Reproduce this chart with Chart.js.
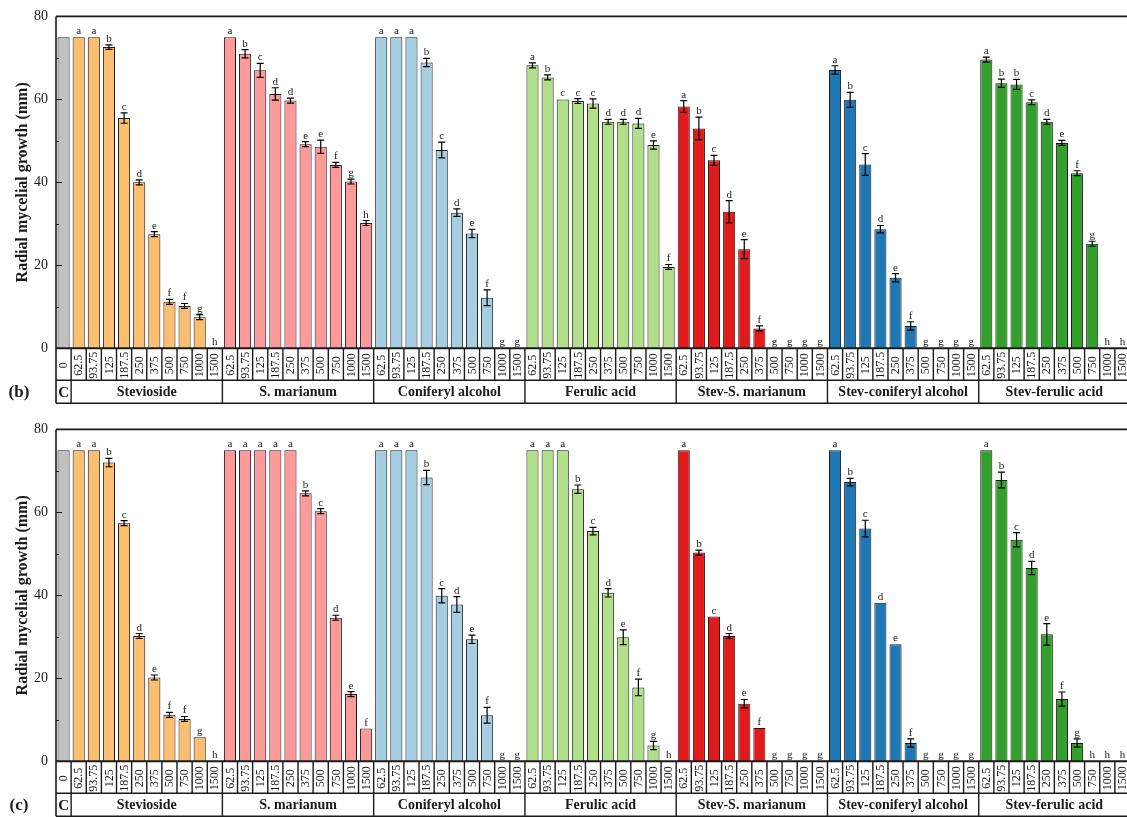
<!DOCTYPE html>
<html>
<head>
<meta charset="utf-8">
<title>Radial mycelial growth</title>
<script src="https://cdn.jsdelivr.net/npm/chart.js@4.4.1/dist/chart.umd.min.js"></script>
<style>
    html, body {
        margin: 0;
        padding: 0;
        background: #ffffff;
        width: 1127px;
        height: 817px;
        overflow: hidden;
        position: relative;
    }

    canvas {
        position: absolute;
        left: 0;
    }

    #panelB { top: 0; }

    #panelC { top: 413px; }
</style>
</head>
<body>

<canvas id="panelB" width="1130" height="410"></canvas>
<canvas id="panelC" width="1130" height="404"></canvas>

<script>

// =====================================
// DATA
// =====================================

const groups = [
    "Stevioside",
    "S. marianum",
    "Coniferyl alcohol",
    "Ferulic acid",
    "Stev-S. marianum",
    "Stev-coniferyl alcohol",
    "Stev-ferulic acid"
];

const concentrations = [
    "62.5", "93.75", "125", "187.5", "250",
    "375", "500", "750", "1000", "1500"
];

const controlLabel = "0";

const yTicks = [0, 20, 40, 60, 80];

// panel (b)
const controlB = 75;

const meansB = [
    [75, 75, 72.6, 55.5, 40.0, 27.5, 11.2, 10.2, 7.5, 0],
    [75, 71.0, 67.0, 61.3, 59.7, 49.2, 48.6, 44.2, 40.2, 30.2],
    [75, 75, 75, 68.9, 47.8, 32.7, 27.7, 12.2, 0, 0],
    [68.2, 65.3, 60.0, 59.6, 59.0, 54.6, 54.6, 54.2, 49.0, 19.6],
    [58.3, 53.0, 45.3, 32.9, 23.9, 4.8, 0, 0, 0, 0],
    [67.1, 59.9, 44.3, 28.7, 17.0, 5.4, 0, 0, 0, 0],
    [69.6, 63.9, 63.6, 59.3, 54.6, 49.5, 42.2, 25.2, 0, 0]
];

const errorsB = [
    [0, 0, 0.55, 1.25, 0.6, 0.6, 0.6, 0.6, 0.6, 0],
    [0, 1.0, 1.7, 1.5, 0.6, 0.6, 1.6, 0.6, 0.6, 0.6],
    [0, 0, 0, 1.0, 1.9, 0.9, 1.0, 1.9, 0, 0],
    [0.6, 0.6, 0, 0.6, 1.1, 0.6, 0.6, 1.2, 1.0, 0.6],
    [1.4, 2.7, 1.2, 2.7, 2.3, 0.6, 0, 0, 0, 0],
    [1.0, 1.8, 2.6, 0.9, 1.0, 1.0, 0, 0, 0, 0],
    [0.6, 1.0, 1.2, 0.6, 0.6, 0.6, 0.6, 0.6, 0, 0]
];

const lettersB = [
    ["a", "a", "b", "c", "d", "e", "f", "f", "g", "h"],
    ["a", "b", "c", "d", "d", "e", "e", "f", "g", "h"],
    ["a", "a", "a", "b", "c", "d", "e", "f", "g", "g"],
    ["a", "b", "c", "c", "c", "d", "d", "d", "e", "f"],
    ["a", "b", "c", "d", "e", "f", "g", "g", "g", "g"],
    ["a", "b", "c", "d", "e", "f", "g", "g", "g", "g"],
    ["a", "b", "b", "c", "d", "e", "f", "g", "h", "h"]
];

// panel (c)
const controlC = 75;

const meansC = [
    [75, 75, 72.0, 57.4, 30.2, 20.2, 11.2, 10.2, 5.8, 0],
    [75, 75, 75, 75, 75, 64.6, 60.3, 34.6, 16.2, 7.9],
    [75, 75, 75, 68.4, 39.9, 37.8, 29.4, 11.1, 0, 0],
    [75, 75, 75, 65.6, 55.5, 40.6, 29.9, 17.8, 3.8, 0],
    [75, 50.3, 34.9, 30.2, 13.9, 8.0, 0, 0, 0, 0],
    [75, 67.3, 56.1, 38.2, 28.2, 4.4, 0, 0, 0, 0],
    [75, 67.8, 53.4, 46.6, 30.6, 15.0, 4.4, 0, 0, 0]
];

const errorsC = [
    [0, 0, 1.0, 0.6, 0.6, 0.6, 0.6, 0.6, 0, 0],
    [0, 0, 0, 0, 0, 0.6, 0.6, 0.6, 0.6, 0],
    [0, 0, 0, 1.7, 1.7, 1.9, 1.0, 1.9, 0, 0],
    [0, 0, 0, 1.0, 0.9, 1.0, 1.8, 2.0, 1.0, 0],
    [0, 0.6, 0, 0.6, 1.0, 0, 0, 0, 0, 0],
    [0, 0.9, 2.0, 0, 0, 1.0, 0, 0, 0, 0],
    [0, 1.9, 1.7, 1.6, 2.6, 1.7, 1.0, 0, 0, 0]
];

const lettersC = [
    ["a", "a", "b", "c", "d", "e", "f", "f", "g", "h"],
    ["a", "a", "a", "a", "a", "b", "c", "d", "e", "f"],
    ["a", "a", "a", "b", "c", "d", "e", "f", "g", "g"],
    ["a", "a", "a", "b", "c", "d", "e", "f", "g", "h"],
    ["a", "b", "c", "d", "e", "f", "g", "g", "g", "g"],
    ["a", "b", "c", "d", "e", "f", "g", "g", "g", "g"],
    ["a", "b", "c", "d", "e", "f", "g", "h", "h", "h"]
];

// =====================================
// STYLE
// =====================================

const controlColor = "#c0c0c0";

const groupColors = [
    "#fdbf6f",
    "#fb9a99",
    "#a6cee3",
    "#b2df8a",
    "#e31a1c",
    "#1f78b4",
    "#33a02c"
];

const serif = "'Liberation Serif', 'Times New Roman', serif";

const ink = "#1a1a1a";

// =====================================
// DECORATION PLUGIN
// error bars, letters, frame, ticks and the label table under the axis
// =====================================

function panelDecor(errors, letters, tag) {

    return {

        id: "panelDecor",

        afterDatasetsDraw(chart) {

            const ctx = chart.ctx;
            const xs = chart.scales.x;
            const ys = chart.scales.y;
            const values = chart.data.datasets[0].data;

            ctx.save();

            ctx.strokeStyle = "#000000";
            ctx.lineWidth = 1.2;
            ctx.fillStyle = ink;
            ctx.font = "11px " + serif;
            ctx.textAlign = "center";
            ctx.textBaseline = "alphabetic";

            values.forEach((v, i) => {

                const cx = xs.getPixelForValue(i);
                const e = errors[i] || 0;

                if (e > 0) {

                    const yTop = ys.getPixelForValue(v + e);
                    const yBot = ys.getPixelForValue(v - e);

                    ctx.beginPath();
                    ctx.moveTo(cx, yTop);
                    ctx.lineTo(cx, yBot);
                    ctx.moveTo(cx - 3.5, yTop);
                    ctx.lineTo(cx + 3.5, yTop);
                    ctx.moveTo(cx - 3.5, yBot);
                    ctx.lineTo(cx + 3.5, yBot);
                    ctx.stroke();
                }

                if (letters[i]) {

                    ctx.fillText(
                        letters[i],
                        cx,
                        ys.getPixelForValue(v + e) - 3
                    );
                }
            });

            ctx.restore();
        },

        afterDraw(chart) {

            const ctx = chart.ctx;
            const xs = chart.scales.x;
            const ys = chart.scales.y;
            const area = chart.chartArea;
            const count = chart.data.labels.length;
            const slot = (area.right - area.left) / count;

            const row1Top = area.bottom;
            const row1Bottom = row1Top + 32;
            const row2Bottom = row1Bottom + 23;

            ctx.save();

            // plot frame
            ctx.strokeStyle = ink;
            ctx.lineWidth = 1.6;
            ctx.beginPath();
            ctx.moveTo(area.left, area.top);
            ctx.lineTo(area.right + 2, area.top);
            ctx.moveTo(area.left, area.top);
            ctx.lineTo(area.left, row2Bottom);
            ctx.stroke();

            // inward y ticks, minor ones between
            ctx.lineWidth = 1.2;
            ctx.beginPath();
            for (let t = 0; t <= 80; t += 10) {
                const py = Math.round(ys.getPixelForValue(t)) + 0.5;
                const len = (t % 20 === 0) ? 6 : 3;
                ctx.moveTo(area.left, py);
                ctx.lineTo(area.left + len, py);
            }
            ctx.stroke();

            // label table: horizontal rules
            ctx.lineWidth = 2;
            ctx.beginPath();
            ctx.moveTo(area.left, row1Top);
            ctx.lineTo(area.right + 2, row1Top);
            ctx.stroke();

            ctx.lineWidth = 1.4;
            ctx.beginPath();
            ctx.moveTo(area.left, row1Bottom);
            ctx.lineTo(area.right + 2, row1Bottom);
            ctx.moveTo(area.left, row2Bottom);
            ctx.lineTo(area.right + 2, row2Bottom);

            // cell dividers of the concentration row
            for (let k = 1; k <= count; k++) {
                const bx = area.left + k * slot;
                ctx.moveTo(bx, row1Top);
                ctx.lineTo(bx, row1Bottom);
            }

            // group dividers of the treatment row
            for (let k = 1; k <= count; k += 10) {
                const bx = area.left + k * slot;
                ctx.moveTo(bx, row1Bottom);
                ctx.lineTo(bx, row2Bottom);
            }
            ctx.stroke();

            // rotated concentration labels
            ctx.fillStyle = ink;
            ctx.font = "12px " + serif;
            ctx.textAlign = "center";
            ctx.textBaseline = "middle";

            chart.data.labels.forEach((lab, i) => {
                ctx.save();
                ctx.translate(
                    xs.getPixelForValue(i) + 0.5,
                    (row1Top + row1Bottom) / 2 + 1
                );
                ctx.rotate(-Math.PI / 2);
                ctx.fillText(lab, 0, 0);
                ctx.restore();
            });

            // treatment names
            const rowMid = (row1Bottom + row2Bottom) / 2 + 1;

            ctx.font = "bold 15px " + serif;
            ctx.fillText("C", xs.getPixelForValue(0), rowMid);

            ctx.font = "bold 14px " + serif;
            groups.forEach((g, gi) => {
                const first = 1 + gi * 10;
                const cx = (xs.getPixelForValue(first) +
                            xs.getPixelForValue(first + 9)) / 2;
                ctx.fillText(g, cx, rowMid);
            });

            // panel tag
            ctx.font = "bold 17px " + serif;
            ctx.fillText(tag, 19, rowMid);

            ctx.restore();
        }
    };
}

// =====================================
// PANEL BUILDER
// =====================================

function buildPanel(canvasId, tag, control, means, errors, letters) {

    const canvas = document.getElementById(canvasId);

    const labels = [controlLabel];
    const values = [control];
    const colors = [controlColor];
    const errs = [0];
    const marks = [""];

    means.forEach((row, gi) => {
        row.forEach((v, j) => {
            labels.push(concentrations[j]);
            values.push(v);
            colors.push(groupColors[gi]);
            errs.push(errors[gi][j]);
            marks.push(letters[gi][j]);
        });
    });

    const bottomSpace = canvas.height - 348.3;

    return new Chart(canvas, {

        type: "bar",

        data: {

            labels: labels,

            datasets: [{

                data: values,

                backgroundColor: colors,

                borderColor: "#1a1a1a",

                borderWidth: 1,

                barPercentage: 0.8,

                categoryPercentage: 1
            }]
        },

        options: {

            responsive: false,

            devicePixelRatio: 1,

            animation: false,

            layout: {
                padding: {
                    left: 0,
                    right: 0,
                    top: 15,
                    bottom: bottomSpace
                }
            },

            plugins: {
                legend: { display: false },
                tooltip: { enabled: false }
            },

            scales: {

                x: {
                    display: false,
                    offset: true
                },

                y: {

                    min: 0,

                    max: 80,

                    afterFit: (scale) => {
                        scale.width = 56;
                    },

                    afterBuildTicks: (scale) => {
                        scale.ticks = yTicks.map(v => ({ value: v }));
                    },

                    ticks: {
                        color: ink,
                        padding: 8,
                        font: {
                            family: serif,
                            size: 14
                        }
                    },

                    grid: {
                        display: false,
                        drawTicks: false
                    },

                    border: {
                        display: false
                    },

                    title: {
                        display: true,
                        text: "Radial mycelial growth (mm)",
                        color: ink,
                        padding: { top: 13, bottom: 0 },
                        font: {
                            family: serif,
                            size: 16,
                            weight: "bold"
                        }
                    }
                }
            }
        },

        plugins: [panelDecor(errs, marks, tag)]
    });
}

window.onload = function () {

    buildPanel("panelB", "(b)", controlB, meansB, errorsB, lettersB);

    buildPanel("panelC", "(c)", controlC, meansC, errorsC, lettersC);
};

</script>
</body>
</html>
